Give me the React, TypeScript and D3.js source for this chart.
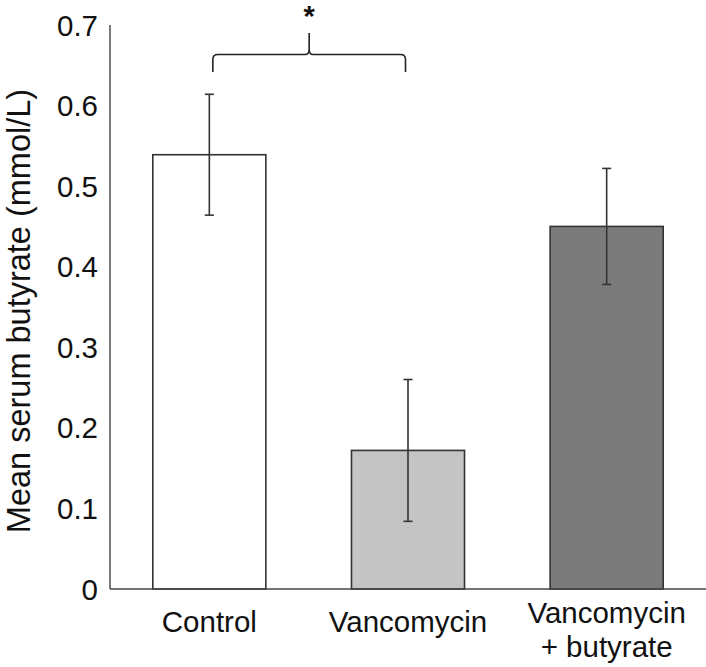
import React from "react";
import * as d3 from "d3";

const categories = ["Control", "Vancomycin", "Vancomycin\n+ butyrate"];
const means = [0.539, 0.172, 0.45];
const errors = [0.075, 0.088, 0.072];
const fills = ["#ffffff", "#c4c4c4", "#7b7b7b"];
const yTicks = [0, 0.1, 0.2, 0.3, 0.4, 0.5, 0.6, 0.7];
const yTickLabels = ["0", "0.1", "0.2", "0.3", "0.4", "0.5", "0.6", "0.7"];
const yTitle = "Mean serum butyrate (mmol/L)";
const sigLabel = "*";

const W = 706;
const H = 667;
const left = 110;
const right = 706;
const top = 25;
const bottom = 589;
const font = "'Liberation Sans', Arial, Helvetica, sans-serif";

export default function App() {
  const x = d3
    .scaleBand<string>()
    .domain(categories)
    .range([left, right])
    .paddingInner(0.431)
    .paddingOuter(0.2155);
  const y = d3.scaleLinear().domain([0, 0.7]).range([bottom, top]);
  const bw = x.bandwidth();
  const cx = (c: string) => (x(c) as number) + bw / 2;

  const bx1 = cx(categories[0]) + 3.5;
  const bx2 = cx(categories[1]) - 2.5;
  const mid = (bx1 + bx2) / 2;
  const yb = 54.5;
  const yEnd = 72;
  const yPeak = 33;
  const r = 5;
  const brace = [
    `M${bx1},${yEnd} L${bx1},${yb + r} Q${bx1},${yb} ${bx1 + r},${yb}`,
    `L${mid - 4},${yb} Q${mid},${yb} ${mid},${yb - 5} L${mid},${yPeak}`,
    `M${mid},${yb - 5} Q${mid},${yb} ${mid + 4},${yb}`,
    `L${bx2 - r},${yb} Q${bx2},${yb} ${bx2},${yb + r} L${bx2},${yEnd}`,
  ].join(" ");

  return (
    <svg
      width={W}
      height={H}
      style={{ position: "absolute", left: 0, top: 0, background: "#fff" }}
      fontFamily={font}
    >
      <rect x={0} y={0} width={W} height={H} fill="#fff" />
      {/* bars */}
      {categories.map((c, i) => (
        <rect
          key={c}
          x={x(c)}
          y={y(means[i])}
          width={bw}
          height={y(0) - y(means[i])}
          fill={fills[i]}
          stroke="#333"
          strokeWidth={1.6}
        />
      ))}
      {/* error bars */}
      {categories.map((c, i) => {
        const xc = cx(c);
        const yHi = y(means[i] + errors[i]);
        const yLo = y(means[i] - errors[i]);
        return (
          <g key={"e" + c} stroke="#333" strokeWidth={1.6}>
            <line x1={xc} x2={xc} y1={yHi} y2={yLo} />
            <line x1={xc - 4.5} x2={xc + 4.5} y1={yHi} y2={yHi} />
            <line x1={xc - 4.5} x2={xc + 4.5} y1={yLo} y2={yLo} />
          </g>
        );
      })}
      {/* axes */}
      <line x1={left} x2={left} y1={top} y2={bottom} stroke="#444" strokeWidth={1.4} />
      <line x1={left} x2={right} y1={bottom} y2={bottom} stroke="#444" strokeWidth={1.6} />
      {yTicks.map((t, i) => (
        <text
          key={t}
          x={98}
          y={y(t)}
          textAnchor="end"
          dominantBaseline="central"
          fontSize={29.5}
          fill="#111"
        >
          {yTickLabels[i]}
        </text>
      ))}
      {/* x labels */}
      {categories.map((c) => {
        const lines = c.split("\n");
        const base = lines.length === 1 ? 632 : 623;
        return (
          <text key={"l" + c} x={cx(c)} textAnchor="middle" fontSize={29.5} fill="#111">
            {lines.map((ln, j) => (
              <tspan key={j} x={cx(c)} y={base + j * 34}>
                {ln}
              </tspan>
            ))}
          </text>
        );
      })}
      {/* y title */}
      <text
        transform={`translate(30,${(top + bottom) / 2 + 4}) rotate(-90)`}
        textAnchor="middle"
        fontSize={32.5}
        fill="#111"
      >
        {yTitle}
      </text>
      {/* significance brace */}
      <path d={brace} fill="none" stroke="#222" strokeWidth={1.6} />
      <text x={mid} y={26} textAnchor="middle" fontSize={29} fontWeight="bold" fill="#111">
        {sigLabel}
      </text>
    </svg>
  );
}
